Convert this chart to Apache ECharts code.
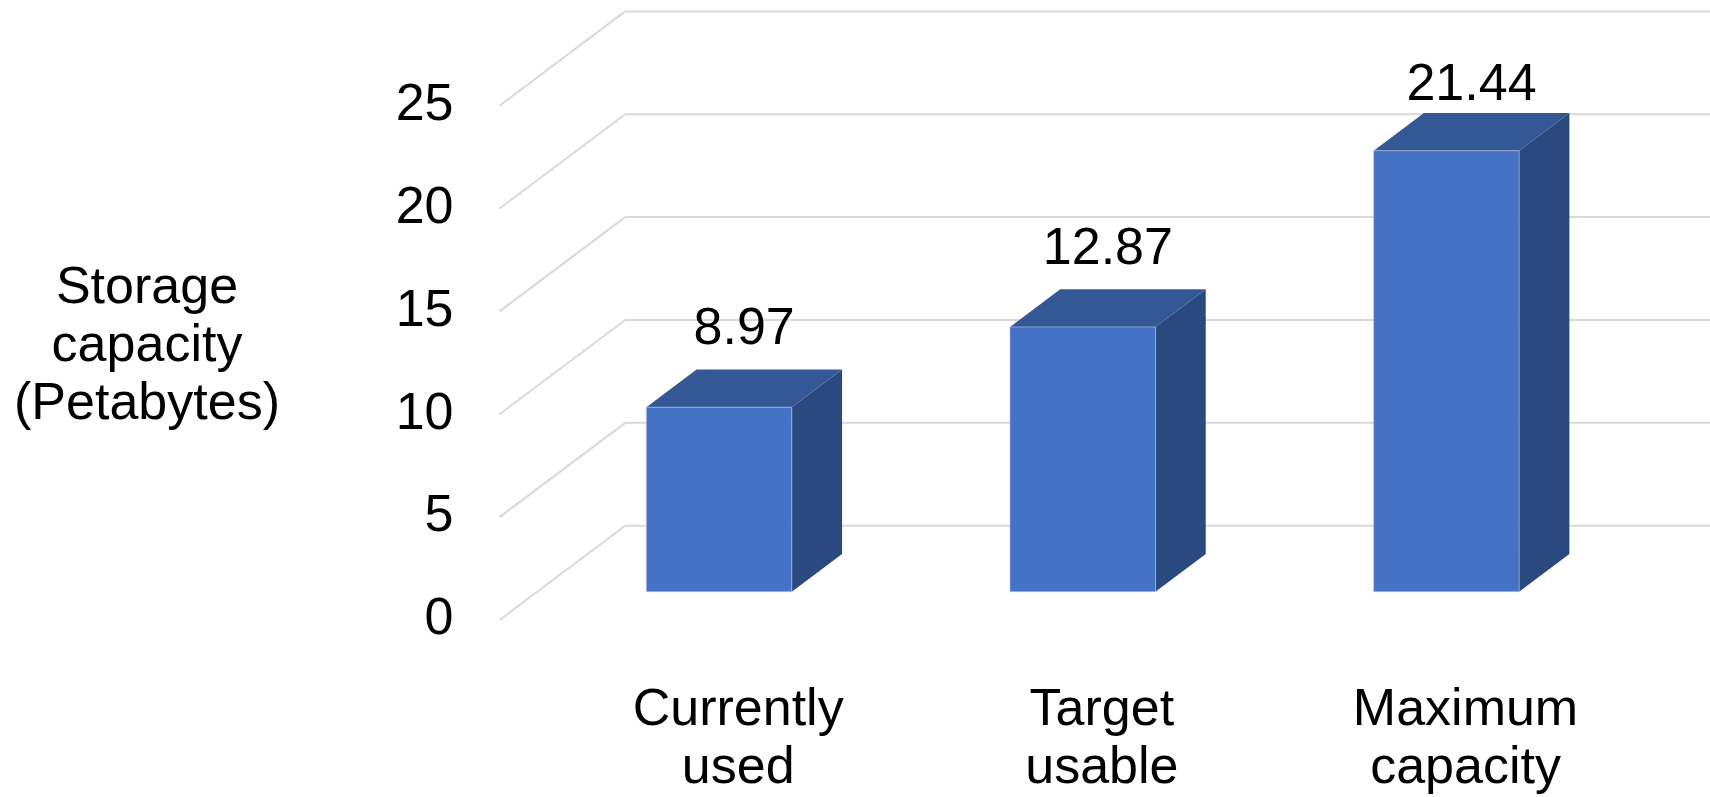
<!DOCTYPE html>
<html>
<head>
<meta charset="utf-8">
<script src="https://cdn.jsdelivr.net/npm/echarts@6/dist/echarts.min.js"></script>
<style>
  html, body { margin: 0; padding: 0; background: #ffffff; }
  #chart { width: 1710px; height: 797px; }
</style>
</head>
<body>
<div id="chart"></div>
<script>
// Storage capacity by category (petabytes)
const categories = ['Currently\nused', 'Target\nusable', 'Maximum\ncapacity'];
const capacity = [8.97, 12.87, 21.44];
const yTicks = [0, 5, 10, 15, 20, 25];
const axisTitle = 'Storage\ncapacity\n(Petabytes)';

// Oblique 3D look: depth vector from the front plane to the back wall (px)
const DEPTH = [125.7, -94.3];
const BAR_FRONT = 0.3;   // bar front face, as a fraction of the depth
const BAR_BACK = 0.7;    // bar back face
const BAR_WIDTH = 0.4;   // fraction of the category band
const FONT = '"Liberation Sans", Arial, sans-serif';
const GRID_COLOR = '#d9d9d9';

const chart = echarts.init(document.getElementById('chart'), null, { renderer: 'canvas' });

// Floor diagonals and back-wall lines at every tick
function renderWall(params, api) {
  const cs = params.coordSys;
  const v = api.value(1);
  const p = api.coord([0, v]);
  const x0 = cs.x, y0 = p[1];
  const x1 = x0 + DEPTH[0], y1 = y0 + DEPTH[1];
  const style = { stroke: GRID_COLOR, lineWidth: 2, fill: null };
  return {
    type: 'group',
    children: [
      { type: 'line', shape: { x1: x0, y1: y0, x2: x1, y2: y1 }, style: style, silent: true },
      { type: 'line', shape: { x1: x1, y1: y1, x2: x1 + cs.width, y2: y1 }, style: style, silent: true }
    ]
  };
}

// Prism bars with front, top and side faces plus value and category labels
function renderBar(params, api) {
  const cs = params.coordSys;
  const i = api.value(0);
  const v = api.value(1);
  const base = api.coord([i, 0]);
  const top = api.coord([i, v]);
  const band = api.size([1, 0])[0];
  const hw = band * BAR_WIDTH / 2;
  const fx = DEPTH[0] * BAR_FRONT, fy = DEPTH[1] * BAR_FRONT;
  const dx = DEPTH[0] * (BAR_BACK - BAR_FRONT), dy = DEPTH[1] * (BAR_BACK - BAR_FRONT);
  const x0 = base[0] - hw + fx, x1 = base[0] + hw + fx;
  const yb = base[1] + fy, yt = top[1] + fy;
  const midX = base[0] + DEPTH[0] * 0.5;
  const backTop = yt + dy;
  const baseline = Math.max(backTop - 22, cs.y - 2);

  return {
    type: 'group',
    children: [
      {
        type: 'polygon',
        shape: { points: [[x1, yt], [x1 + dx, yt + dy], [x1 + dx, yb + dy], [x1, yb]] },
        style: { fill: '#2a497e' }
      },
      {
        type: 'polygon',
        shape: { points: [[x0, yt], [x1, yt], [x1 + dx, yt + dy], [x0 + dx, yt + dy]] },
        style: { fill: '#345895' }
      },
      {
        type: 'rect',
        shape: { x: x0, y: yt, width: x1 - x0, height: yb - yt },
        style: { fill: '#4472c4', stroke: 'rgba(190,200,220,0.6)', lineWidth: 1 }
      },
      {
        type: 'text',
        style: {
          text: String(v), x: midX, y: baseline + 8,
          align: 'center', verticalAlign: 'bottom',
          fontSize: 52, fontFamily: FONT, fill: '#000000'
        }
      },
      {
        type: 'text',
        style: {
          text: categories[i], x: midX - 6, y: base[1] + 62,
          align: 'center', verticalAlign: 'top', lineHeight: 58,
          fontSize: 52, fontFamily: FONT, fill: '#000000'
        }
      }
    ]
  };
}

chart.setOption({
  animation: false,
  backgroundColor: '#ffffff',
  grid: { left: 499.5, right: 119.5, top: 105.7, bottom: 177 },
  xAxis: {
    type: 'category',
    data: categories,
    axisLine: { show: false },
    axisTick: { show: false },
    axisLabel: { show: false },
    splitLine: { show: false }
  },
  yAxis: {
    type: 'value',
    min: 0,
    max: 25,
    interval: 5,
    axisLine: { show: false },
    axisTick: { show: false },
    splitLine: { show: false },
    axisLabel: { margin: 46, fontSize: 52, fontFamily: FONT, color: '#000000' }
  },
  graphic: [{
    type: 'text',
    x: 147,
    y: 347,
    style: {
      text: axisTitle, align: 'center', verticalAlign: 'middle', lineHeight: 58,
      fontSize: 52, fontFamily: FONT, fill: '#000000'
    }
  }],
  series: [
    {
      type: 'custom',
      name: 'wall',
      renderItem: renderWall,
      data: yTicks.map(function (t) { return [0, t]; }),
      clip: false,
      silent: true,
      z: 1
    },
    {
      type: 'custom',
      name: 'Storage capacity',
      renderItem: renderBar,
      data: capacity.map(function (c, i) { return [i, c]; }),
      clip: false,
      z: 2
    }
  ]
});
</script>
</body>
</html>
